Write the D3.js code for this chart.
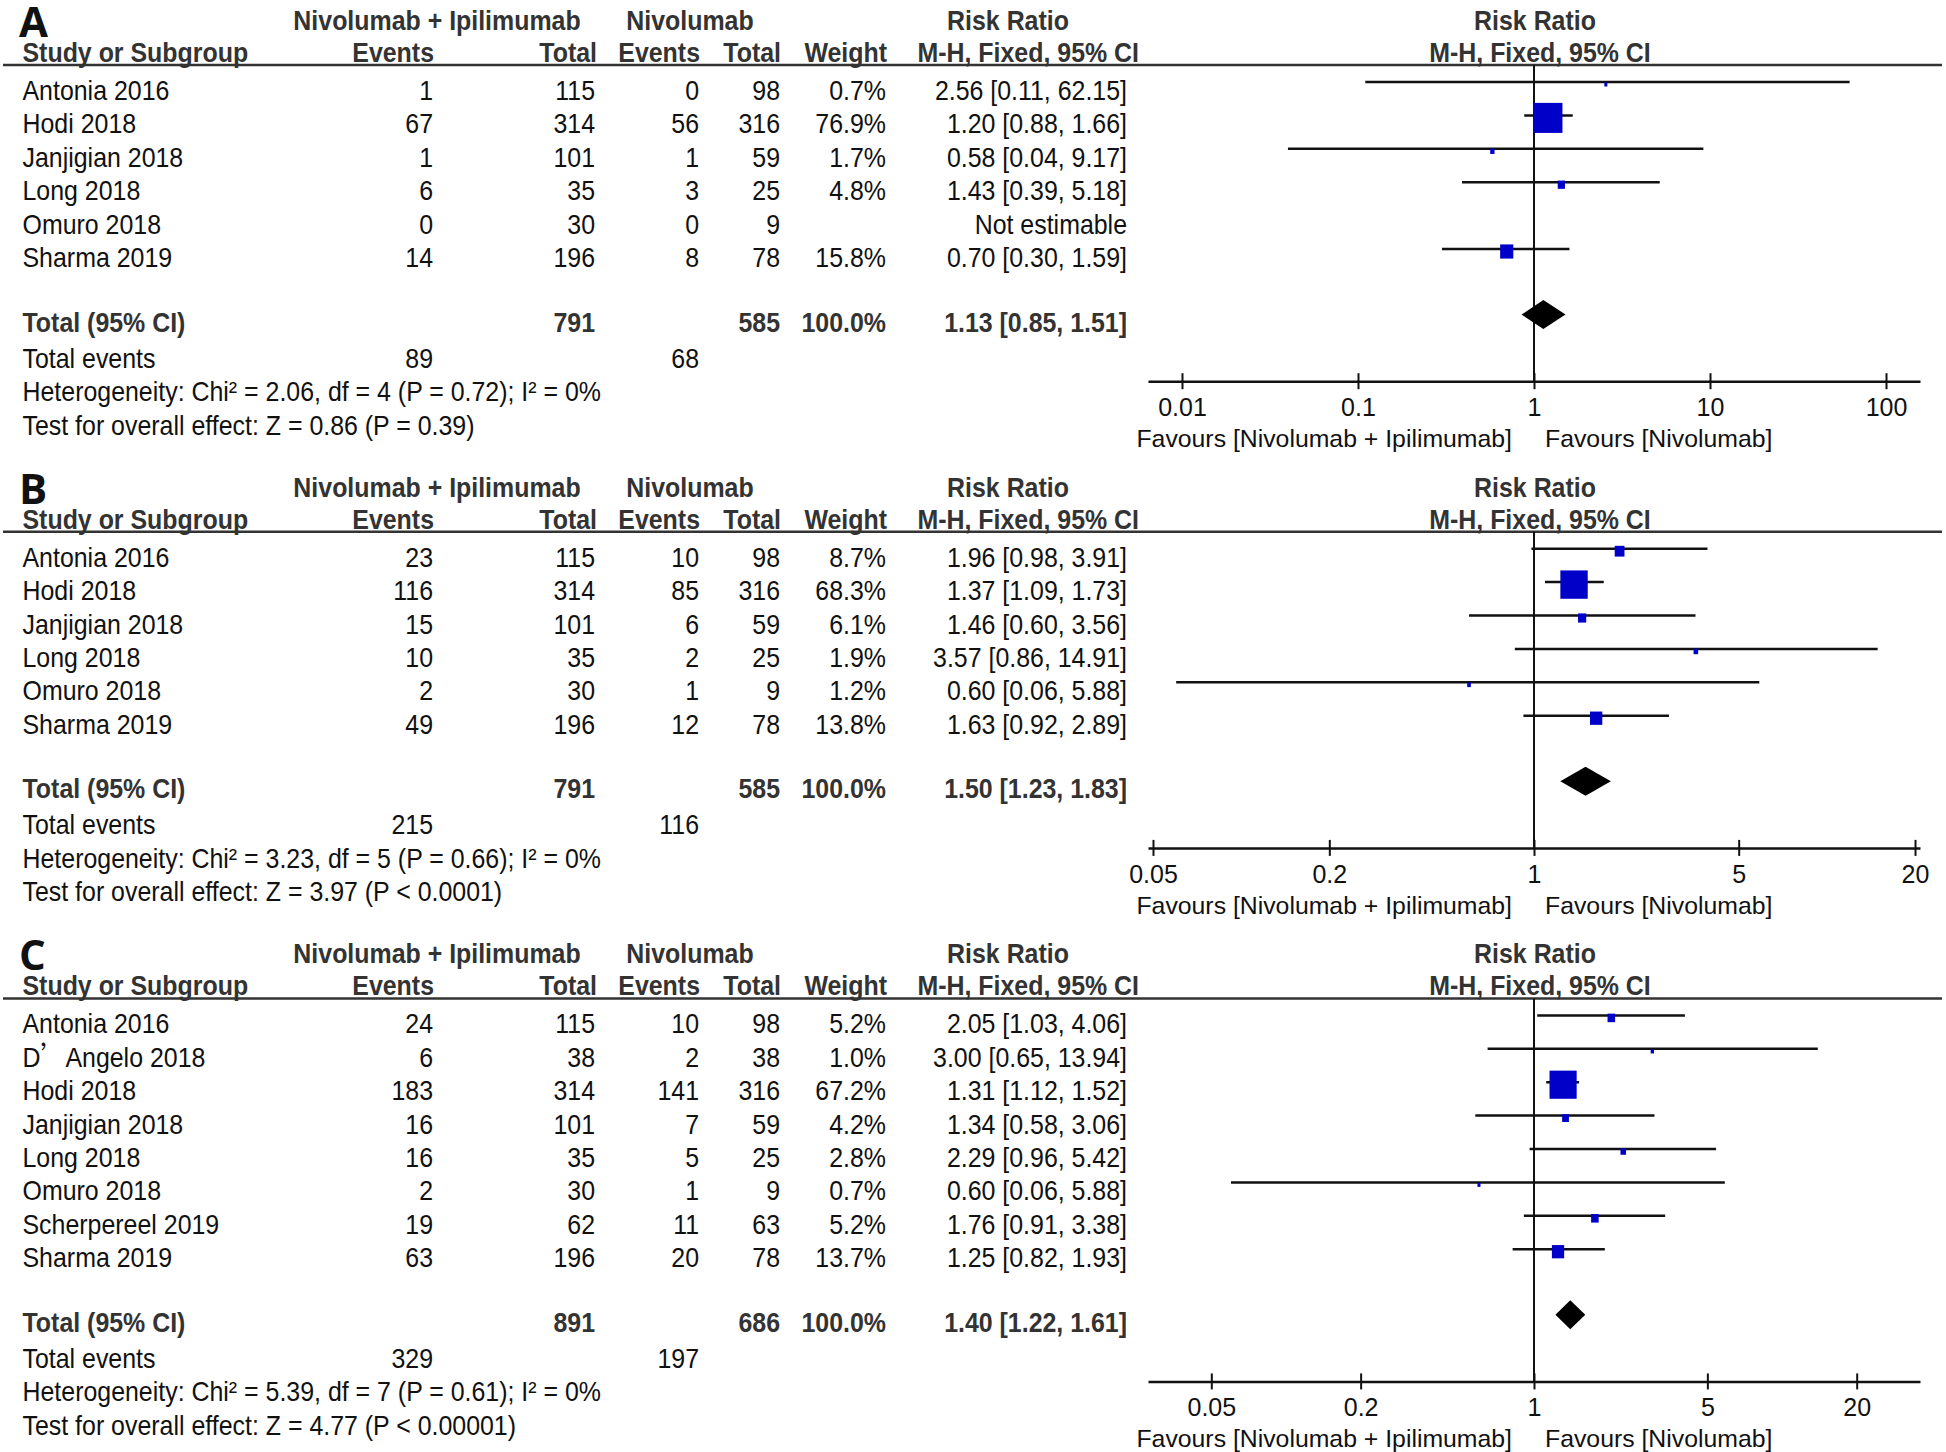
<!DOCTYPE html>
<html><head><meta charset="utf-8">
<script src="https://cdn.jsdelivr.net/npm/d3@7/dist/d3.min.js"></script>
<style>body{margin:0;background:#fff}</style>
</head><body>
<svg id="chart" width="1946" height="1452"></svg>
<script>
// ---------- data ----------
const studiesA = ["Antonia 2016","Hodi 2018","Janjigian 2018","Long 2018","Omuro 2018","Sharma 2019"];
const expEventsA = [1,67,1,6,0,14];
const expTotalA = [115,314,101,35,30,196];
const ctrlEventsA = [0,56,1,3,0,8];
const ctrlTotalA = [98,316,59,25,9,78];
const weightA = [0.7,76.9,1.7,4.8,null,15.8];
const rrA = [2.56,1.20,0.58,1.43,null,0.70];
const lowA = [0.11,0.88,0.04,0.39,null,0.30];
const highA = [62.15,1.66,9.17,5.18,null,1.59];
const totalA = {expTotal:791, ctrlTotal:585, rr:1.13, low:0.85, high:1.51, expEvents:89, ctrlEvents:68,
  het:"Heterogeneity: Chi² = 2.06, df = 4 (P = 0.72); I² = 0%", test:"Test for overall effect: Z = 0.86 (P = 0.39)"};
const tickValuesA = [0.01,0.1,1,10,100];
const tickLabelsA = ["0.01","0.1","1","10","100"];

const studiesB = ["Antonia 2016","Hodi 2018","Janjigian 2018","Long 2018","Omuro 2018","Sharma 2019"];
const expEventsB = [23,116,15,10,2,49];
const expTotalB = [115,314,101,35,30,196];
const ctrlEventsB = [10,85,6,2,1,12];
const ctrlTotalB = [98,316,59,25,9,78];
const weightB = [8.7,68.3,6.1,1.9,1.2,13.8];
const rrB = [1.96,1.37,1.46,3.57,0.60,1.63];
const lowB = [0.98,1.09,0.60,0.86,0.06,0.92];
const highB = [3.91,1.73,3.56,14.91,5.88,2.89];
const totalB = {expTotal:791, ctrlTotal:585, rr:1.50, low:1.23, high:1.83, expEvents:215, ctrlEvents:116,
  het:"Heterogeneity: Chi² = 3.23, df = 5 (P = 0.66); I² = 0%", test:"Test for overall effect: Z = 3.97 (P < 0.0001)"};
const tickValuesB = [0.05,0.2,1,5,20];
const tickLabelsB = ["0.05","0.2","1","5","20"];

const studiesC = ["Antonia 2016","D’Angelo 2018","Hodi 2018","Janjigian 2018","Long 2018","Omuro 2018","Scherpereel 2019","Sharma 2019"];
const expEventsC = [24,6,183,16,16,2,19,63];
const expTotalC = [115,38,314,101,35,30,62,196];
const ctrlEventsC = [10,2,141,7,5,1,11,20];
const ctrlTotalC = [98,38,316,59,25,9,63,78];
const weightC = [5.2,1.0,67.2,4.2,2.8,0.7,5.2,13.7];
const rrC = [2.05,3.00,1.31,1.34,2.29,0.60,1.76,1.25];
const lowC = [1.03,0.65,1.12,0.58,0.96,0.06,0.91,0.82];
const highC = [4.06,13.94,1.52,3.06,5.42,5.88,3.38,1.93];
const totalC = {expTotal:891, ctrlTotal:686, rr:1.40, low:1.22, high:1.61, expEvents:329, ctrlEvents:197,
  het:"Heterogeneity: Chi² = 5.39, df = 7 (P = 0.61); I² = 0%", test:"Test for overall effect: Z = 4.77 (P < 0.00001)"};
const tickValuesC = [0.05,0.2,1,5,20];
const tickLabelsC = ["0.05","0.2","1","5","20"];

const panelLetters = ["A","B","C"];

// ---------- drawing ----------
const svg = d3.select("#chart");
svg.append("rect").attr("width",1946).attr("height",1452).attr("fill","#fff");

const REG = "'Liberation Sans',Arial,sans-serif";
const SX = 0.89;   // condensed look

function txt(g, x, y, s, o) {
  o = o || {};
  const t = g.append("text")
    .attr("transform", `translate(${x},${y}) scale(${o.sx || SX},1)`)
    .attr("text-anchor", o.anchor || "start")
    .attr("font-family", o.family || REG)
    .attr("font-size", o.size || 28)
    .attr("font-weight", o.bold ? "bold" : "normal")
    .attr("fill", o.fill || (o.bold ? "#333" : "#111"));
  if (s.includes("’")) {
    const parts = s.split("’");
    t.append("tspan").text(parts[0]);
    t.append("tspan").attr("font-family","'Noto Sans CJK SC'").text("’");
    t.append("tspan").text(parts[1]);
  } else t.text(s);
  return t;
}

const COL = {name:22.5, expE:433, expT:595, ctrlE:699, ctrlT:780, weight:886, rr:1127};
const RANGE = [1148,1920];
const ROW0 = 100, STEP = 33.4;

function fmt2(v){ return v.toFixed(2); }

function drawPanel(off, letter, studies, expE, expT, ctrlE, ctrlT, weight, rr, low, high, tot, dom, tickVals, tickLabs) {
  const g = svg.append("g").attr("transform", `translate(0,${off})`);
  const n = studies.length;
  const x = d3.scaleLog().domain(dom).range(RANGE);

  // panel letter
  g.append("text").attr("x",19).attr("y",37).attr("font-family","'Open Sans',sans-serif")
    .attr("font-weight","bold").attr("font-size",42).attr("fill","#111").text(letter);

  // header row 1
  txt(g, 437, 30, "Nivolumab + Ipilimumab", {anchor:"middle", bold:true});
  txt(g, 690, 30, "Nivolumab", {anchor:"middle", bold:true});
  txt(g, 1008, 30, "Risk Ratio", {anchor:"middle", bold:true});
  txt(g, 1535, 30, "Risk Ratio", {anchor:"middle", bold:true});
  // header row 2
  txt(g, COL.name, 62, "Study or Subgroup", {bold:true});
  txt(g, COL.expE+1, 62, "Events", {anchor:"end", bold:true});
  txt(g, COL.expT+2, 62, "Total", {anchor:"end", bold:true});
  txt(g, COL.ctrlE+1, 62, "Events", {anchor:"end", bold:true});
  txt(g, COL.ctrlT+1, 62, "Total", {anchor:"end", bold:true});
  txt(g, COL.weight+1, 62, "Weight", {anchor:"end", bold:true});
  txt(g, 1139, 62, "M-H, Fixed, 95% CI", {anchor:"end", bold:true});
  txt(g, 1540, 62, "M-H, Fixed, 95% CI", {anchor:"middle", bold:true});
  g.append("line").attr("x1",3).attr("x2",1942).attr("y1",65).attr("y2",65)
    .attr("stroke","#333").attr("stroke-width",2.5);

  // rows
  const rows = d3.range(n);
  const by = i => ROW0 + STEP*i;
  rows.forEach(i => {
    const y = by(i);
    txt(g, COL.name, y, studies[i]);
    txt(g, COL.expE, y, String(expE[i]), {anchor:"end"});
    txt(g, COL.expT, y, String(expT[i]), {anchor:"end"});
    txt(g, COL.ctrlE, y, String(ctrlE[i]), {anchor:"end"});
    txt(g, COL.ctrlT, y, String(ctrlT[i]), {anchor:"end"});
    if (weight[i] != null) {
      txt(g, COL.weight, y, weight[i].toFixed(1) + "%", {anchor:"end"});
      txt(g, COL.rr, y, `${fmt2(rr[i])} [${fmt2(low[i])}, ${fmt2(high[i])}]`, {anchor:"end"});
    } else {
      txt(g, COL.rr, y, "Not estimable", {anchor:"end"});
    }
  });

  const lastBase = by(n-1);
  const totY = lastBase + 64.6;
  const evY = totY + 36;
  const hetY = evY + 33.5;
  const testY = hetY + 33.5;
  const axisY = totY + 49.6;

  // vertical line of no effect
  g.append("line").attr("x1",x(1)).attr("x2",x(1)).attr("y1",65).attr("y2",axisY)
    .attr("stroke","#111").attr("stroke-width",2);

  // CI lines and squares
  const est = rows.filter(i => rr[i] != null);
  g.selectAll("line.ci").data(est).join("line").attr("class","ci")
    .attr("x1", i => x(low[i])).attr("x2", i => x(high[i]))
    .attr("y1", i => by(i) - 18).attr("y2", i => by(i) - 18)
    .attr("stroke","#111").attr("stroke-width",2.5);
  const side = w => Math.max(3, 3.31*Math.sqrt(w));
  g.selectAll("rect.sq").data(est).join("rect").attr("class","sq")
    .attr("x", i => x(rr[i]) - side(weight[i])/2)
    .attr("y", i => by(i) - 18 + 2.5 - (side(weight[i])+1)/2)
    .attr("width", i => side(weight[i]))
    .attr("height", i => side(weight[i]) + 1)
    .attr("fill","#0000c8");

  // totals
  txt(g, COL.name, totY, "Total (95% CI)", {bold:true});
  txt(g, COL.expT, totY, String(tot.expTotal), {anchor:"end", bold:true});
  txt(g, COL.ctrlT, totY, String(tot.ctrlTotal), {anchor:"end", bold:true});
  txt(g, COL.weight, totY, "100.0%", {anchor:"end", bold:true});
  txt(g, COL.rr, totY, `${fmt2(tot.rr)} [${fmt2(tot.low)}, ${fmt2(tot.high)}]`, {anchor:"end", bold:true});
  const dy = totY - 17, hh = 14.5;
  g.append("path")
    .attr("d", `M${x(tot.low)},${dy} L${x(tot.rr)},${dy-hh} L${x(tot.high)},${dy} L${x(tot.rr)},${dy+hh} Z`)
    .attr("fill","#000");

  txt(g, COL.name, evY, "Total events");
  txt(g, COL.expE, evY, String(tot.expEvents), {anchor:"end"});
  txt(g, COL.ctrlE, evY, String(tot.ctrlEvents), {anchor:"end"});
  txt(g, COL.name, hetY, tot.het);
  txt(g, COL.name, testY, tot.test);

  // axis
  const ax = d3.axisBottom(x).tickValues(tickVals)
    .tickFormat((d,i) => tickLabs[i]).tickSizeInner(8).tickSizeOuter(0);
  const ag = g.append("g").attr("transform",`translate(0,${axisY})`).call(ax);
  ag.select(".domain").attr("stroke","#111").attr("stroke-width",2.5);
  ag.selectAll(".tick line").attr("y1",-8).attr("y2",8).attr("stroke","#111").attr("stroke-width",2);
  ag.selectAll(".tick text").attr("y",35).attr("dy",0)
    .attr("font-family",REG).attr("font-size",25).attr("fill","#111");

  txt(g, 1512, axisY + 66, "Favours [Nivolumab + Ipilimumab]", {anchor:"end", size:24.8, sx:1});
  txt(g, 1545, axisY + 66, "Favours [Nivolumab]", {size:24.8, sx:1});

  return 266.3 + n*STEP;
}

let off = 0;
off += drawPanel(off, panelLetters[0], studiesA, expEventsA, expTotalA, ctrlEventsA, ctrlTotalA, weightA, rrA, lowA, highA, totalA, [1/156,156], tickValuesA, tickLabelsA);
off += drawPanel(off, panelLetters[1], studiesB, expEventsB, expTotalB, ctrlEventsB, ctrlTotalB, weightB, rrB, lowB, highB, totalB, [1/20.8,20.8], tickValuesB, tickLabelsB);
drawPanel(off, panelLetters[2], studiesC, expEventsC, expTotalC, ctrlEventsC, ctrlTotalC, weightC, rrC, lowC, highC, totalC, [1/36,36], tickValuesC, tickLabelsC);
</script>
</body></html>
